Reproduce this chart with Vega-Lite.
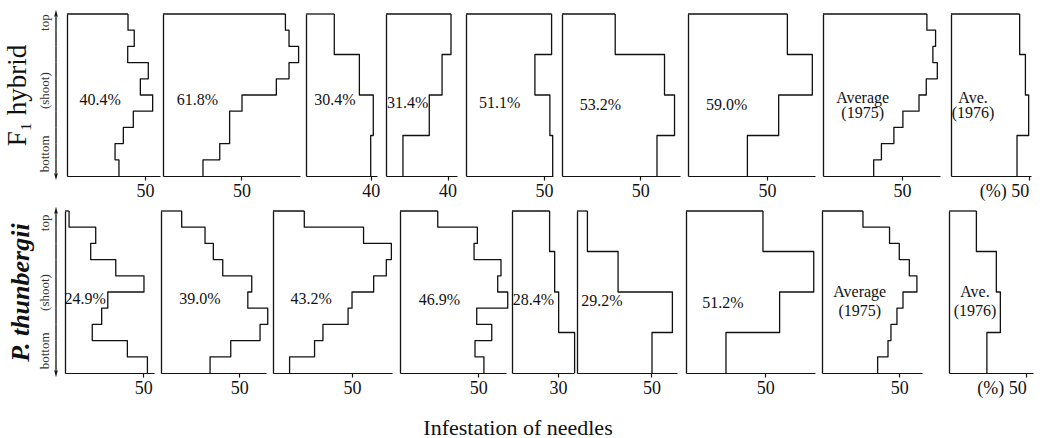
{
"$schema":"https://vega.github.io/schema/vega-lite/v6.json",
"padding":{"left":3,"top":9,"right":5,"bottom":2},
"datasets":{"prof":[
{"sp":"F1","p":1,"top":1,"bot":0.9,"v":39.1},{"sp":"F1","p":1,"top":0.9,"bot":0.8,"v":43.1},{"sp":"F1","p":1,"top":0.8,"bot":0.7,"v":38.9},{"sp":"F1","p":1,"top":0.7,"bot":0.6,"v":52.1},{"sp":"F1","p":1,"top":0.6,"bot":0.5,"v":47.0},{"sp":"F1","p":1,"top":0.5,"bot":0.4,"v":54.9},{"sp":"F1","p":1,"top":0.4,"bot":0.3,"v":42.5},{"sp":"F1","p":1,"top":0.3,"bot":0.2,"v":36.1},{"sp":"F1","p":1,"top":0.2,"bot":0.1,"v":30.8},{"sp":"F1","p":1,"top":0.1,"bot":0,"v":33.3},
{"sp":"F1","p":2,"top":1,"bot":0.9,"v":78.1},{"sp":"F1","p":2,"top":0.9,"bot":0.8,"v":80.4},{"sp":"F1","p":2,"top":0.8,"bot":0.7,"v":86.5},{"sp":"F1","p":2,"top":0.7,"bot":0.6,"v":80.4},{"sp":"F1","p":2,"top":0.6,"bot":0.5,"v":72.3},{"sp":"F1","p":2,"top":0.5,"bot":0.4,"v":50.4},{"sp":"F1","p":2,"top":0.4,"bot":0.3,"v":42.5},{"sp":"F1","p":2,"top":0.3,"bot":0.2,"v":42.5},{"sp":"F1","p":2,"top":0.2,"bot":0.1,"v":36.2},{"sp":"F1","p":2,"top":0.1,"bot":0,"v":25.5},
{"sp":"F1","p":3,"top":1,"bot":0.75,"v":17.5},{"sp":"F1","p":3,"top":0.75,"bot":0.5,"v":33.0},{"sp":"F1","p":3,"top":0.5,"bot":0.25,"v":41.6},{"sp":"F1","p":3,"top":0.25,"bot":0,"v":40.0},
{"sp":"F1","p":4,"top":1,"bot":0.75,"v":42.2},{"sp":"F1","p":4,"top":0.75,"bot":0.5,"v":36.4},{"sp":"F1","p":4,"top":0.5,"bot":0.25,"v":28.1},{"sp":"F1","p":4,"top":0.25,"bot":0,"v":11.0},
{"sp":"F1","p":5,"top":1,"bot":0.75,"v":54.9},{"sp":"F1","p":5,"top":0.75,"bot":0.5,"v":44.2},{"sp":"F1","p":5,"top":0.5,"bot":0.25,"v":53.8},{"sp":"F1","p":5,"top":0.25,"bot":0,"v":55.6},
{"sp":"F1","p":6,"top":1,"bot":0.75,"v":34.0},{"sp":"F1","p":6,"top":0.75,"bot":0.5,"v":65.5},{"sp":"F1","p":6,"top":0.5,"bot":0.25,"v":71.9},{"sp":"F1","p":6,"top":0.25,"bot":0,"v":60.7},
{"sp":"F1","p":7,"top":1,"bot":0.75,"v":62.9},{"sp":"F1","p":7,"top":0.75,"bot":0.5,"v":78.7},{"sp":"F1","p":7,"top":0.5,"bot":0.25,"v":57.4},{"sp":"F1","p":7,"top":0.25,"bot":0,"v":37.6},
{"sp":"F1","p":8,"top":1,"bot":0.9,"v":65.8},{"sp":"F1","p":8,"top":0.9,"bot":0.8,"v":71.3},{"sp":"F1","p":8,"top":0.8,"bot":0.7,"v":69.6},{"sp":"F1","p":8,"top":0.7,"bot":0.6,"v":72.4},{"sp":"F1","p":8,"top":0.6,"bot":0.5,"v":65.4},{"sp":"F1","p":8,"top":0.5,"bot":0.4,"v":60.8},{"sp":"F1","p":8,"top":0.4,"bot":0.3,"v":50.6},{"sp":"F1","p":8,"top":0.3,"bot":0.2,"v":44.9},{"sp":"F1","p":8,"top":0.2,"bot":0.1,"v":37.0},{"sp":"F1","p":8,"top":0.1,"bot":0,"v":32.1},
{"sp":"F1","p":9,"top":1,"bot":0.75,"v":44.2},{"sp":"F1","p":9,"top":0.75,"bot":0.5,"v":47.9},{"sp":"F1","p":9,"top":0.5,"bot":0.25,"v":50.0},{"sp":"F1","p":9,"top":0.25,"bot":0,"v":42.5},
{"sp":"Pt","p":1,"top":1,"bot":0.9,"v":2.6},{"sp":"Pt","p":1,"top":0.9,"bot":0.8,"v":19.6},{"sp":"Pt","p":1,"top":0.8,"bot":0.7,"v":16.4},{"sp":"Pt","p":1,"top":0.7,"bot":0.6,"v":32.4},{"sp":"Pt","p":1,"top":0.6,"bot":0.5,"v":50.4},{"sp":"Pt","p":1,"top":0.5,"bot":0.4,"v":27.3},{"sp":"Pt","p":1,"top":0.4,"bot":0.3,"v":23.4},{"sp":"Pt","p":1,"top":0.3,"bot":0.2,"v":17.4},{"sp":"Pt","p":1,"top":0.2,"bot":0.1,"v":39.8},{"sp":"Pt","p":1,"top":0.1,"bot":0,"v":52.6},
{"sp":"Pt","p":2,"top":1,"bot":0.9,"v":13.2},{"sp":"Pt","p":2,"top":0.9,"bot":0.8,"v":28.1},{"sp":"Pt","p":2,"top":0.8,"bot":0.7,"v":33.4},{"sp":"Pt","p":2,"top":0.7,"bot":0.6,"v":39.4},{"sp":"Pt","p":2,"top":0.6,"bot":0.5,"v":57.9},{"sp":"Pt","p":2,"top":0.5,"bot":0.4,"v":55.4},{"sp":"Pt","p":2,"top":0.4,"bot":0.3,"v":68.1},{"sp":"Pt","p":2,"top":0.3,"bot":0.2,"v":63.2},{"sp":"Pt","p":2,"top":0.2,"bot":0.1,"v":44.5},{"sp":"Pt","p":2,"top":0.1,"bot":0,"v":31.3},
{"sp":"Pt","p":3,"top":1,"bot":0.9,"v":19.8},{"sp":"Pt","p":3,"top":0.9,"bot":0.8,"v":57.3},{"sp":"Pt","p":3,"top":0.8,"bot":0.7,"v":74.9},{"sp":"Pt","p":3,"top":0.7,"bot":0.6,"v":71.7},{"sp":"Pt","p":3,"top":0.6,"bot":0.5,"v":63.7},{"sp":"Pt","p":3,"top":0.5,"bot":0.4,"v":50.0},{"sp":"Pt","p":3,"top":0.4,"bot":0.3,"v":47.5},{"sp":"Pt","p":3,"top":0.3,"bot":0.2,"v":31.6},{"sp":"Pt","p":3,"top":0.2,"bot":0.1,"v":26.3},{"sp":"Pt","p":3,"top":0.1,"bot":0,"v":10.5},
{"sp":"Pt","p":4,"top":1,"bot":0.9,"v":24.1},{"sp":"Pt","p":4,"top":0.9,"bot":0.8,"v":49.4},{"sp":"Pt","p":4,"top":0.8,"bot":0.7,"v":47.3},{"sp":"Pt","p":4,"top":0.7,"bot":0.6,"v":64.5},{"sp":"Pt","p":4,"top":0.6,"bot":0.5,"v":62.4},{"sp":"Pt","p":4,"top":0.5,"bot":0.4,"v":68.8},{"sp":"Pt","p":4,"top":0.4,"bot":0.3,"v":49.0},{"sp":"Pt","p":4,"top":0.3,"bot":0.2,"v":58.6},{"sp":"Pt","p":4,"top":0.2,"bot":0.1,"v":47.9},{"sp":"Pt","p":4,"top":0.1,"bot":0,"v":53.6},
{"sp":"Pt","p":5,"top":1,"bot":0.75,"v":24.5},{"sp":"Pt","p":5,"top":0.75,"bot":0.5,"v":27.8},{"sp":"Pt","p":5,"top":0.5,"bot":0.25,"v":30.4},{"sp":"Pt","p":5,"top":0.25,"bot":0,"v":40.8},
{"sp":"Pt","p":6,"top":1,"bot":0.75,"v":7.0},{"sp":"Pt","p":6,"top":0.75,"bot":0.5,"v":27.6},{"sp":"Pt","p":6,"top":0.5,"bot":0.25,"v":64.1},{"sp":"Pt","p":6,"top":0.25,"bot":0,"v":50.4},
{"sp":"Pt","p":7,"top":1,"bot":0.75,"v":48.5},{"sp":"Pt","p":7,"top":0.75,"bot":0.5,"v":80.5},{"sp":"Pt","p":7,"top":0.5,"bot":0.25,"v":59.0},{"sp":"Pt","p":7,"top":0.25,"bot":0,"v":25.2},
{"sp":"Pt","p":8,"top":1,"bot":0.9,"v":26.5},{"sp":"Pt","p":8,"top":0.9,"bot":0.8,"v":43.7},{"sp":"Pt","p":8,"top":0.8,"bot":0.7,"v":50.0},{"sp":"Pt","p":8,"top":0.7,"bot":0.6,"v":56.5},{"sp":"Pt","p":8,"top":0.6,"bot":0.5,"v":61.4},{"sp":"Pt","p":8,"top":0.5,"bot":0.4,"v":52.4},{"sp":"Pt","p":8,"top":0.4,"bot":0.3,"v":48.5},{"sp":"Pt","p":8,"top":0.3,"bot":0.2,"v":44.6},{"sp":"Pt","p":8,"top":0.2,"bot":0.1,"v":42.7},{"sp":"Pt","p":8,"top":0.1,"bot":0,"v":36.0},
{"sp":"Pt","p":9,"top":1,"bot":0.75,"v":17.7},{"sp":"Pt","p":9,"top":0.75,"bot":0.5,"v":30.6},{"sp":"Pt","p":9,"top":0.5,"bot":0.25,"v":33.2},{"sp":"Pt","p":9,"top":0.25,"bot":0,"v":24.5}
]},
"data":{"name":"prof"},
"config":{
 "view":{"stroke":null},
 "font":"Liberation Serif",
 "axisX":{"domainColor":"#111","domainWidth":1.2,"tickColor":"#111","tickSize":4,"tickWidth":1.2,"labelFont":"Liberation Serif","labelFontSize":18,"labelColor":"#111","labelPadding":2,"labelFlush":false,"grid":false},
 "axisY":{"domainColor":"#111","domainWidth":1.3,"ticks":false,"labels":false,"grid":false},
 "line":{"color":"#111","strokeWidth":1.3,"strokeJoin":"round"},
 "rule":{"color":"#111","strokeWidth":1.3},
 "text":{"font":"Liberation Serif","fontSize":16,"color":"#111","baseline":"middle"}
},
"title":{"text":"Infestation of needles","orient":"bottom","anchor":"middle","font":"Liberation Serif","fontSize":22,"fontWeight":"normal","color":"#111","offset":21},
"spacing":6,
"vconcat":[
{"spacing":0,"hconcat":[
 {"width":10,"height":162,"transform":[{"filter":"datum.sp=='F1' && datum.p==1"}],"layer":[
  {"mark":{"type":"rule"},"encoding":{"x":{"datum":0,"type":"quantitative","scale":{"domain":[0,1]},"axis":null},"y":{"field":"top","type":"quantitative","scale":{"domain":[0,1],"nice":false},"axis":{"domain":false,"ticks":false,"labels":true,"values":[0.14,0.53,0.95],"labelExpr":"datum.value>0.8?'top':datum.value>0.3?'(shoot)':'bottom'","labelAngle":270,"labelAlign":"center","labelBaseline":"bottom","labelFont":"Liberation Serif","labelFontSize":13,"labelColor":"#333","labelPadding":5,"title":"F₁ hybrid","titleFont":"Liberation Serif","titleFontSize":27,"titleFontWeight":"normal","titleColor":"#111","titlePadding":7}},"y2":{"field":"bot"}}},
  {"transform":[{"filter":"datum.top==1"}],"mark":{"type":"point","filled":true,"opacity":1,"color":"#111","size":70,"shape":"M0,-1L0.45,0.7L0,0.35L-0.45,0.7Z"},"encoding":{"x":{"datum":0,"type":"quantitative","axis":null},"y":{"field":"top","type":"quantitative"}}},
  {"transform":[{"filter":"datum.bot==0"}],"mark":{"type":"point","filled":true,"opacity":1,"color":"#111","size":70,"shape":"M0,1L0.45,-0.7L0,-0.35L-0.45,-0.7Z"},"encoding":{"x":{"datum":0,"type":"quantitative","axis":null},"y":{"field":"bot","type":"quantitative"}}}
 ]},
 {"width":95,"height":162,"transform":[{"filter":"datum.sp=='F1' && datum.p==1"}],"layer":[
  {"transform":[{"fold":["top","bot"],"as":["end","pos"]}],"mark":{"type":"line"},"encoding":{"x":{"field":"v","type":"quantitative","scale":{"domain":[0,59.6],"range":[0,93],"nice":false},"axis":{"values":[50],"title":null}},"y":{"field":"pos","type":"quantitative","scale":{"domain":[0,1],"nice":false},"axis":{"title":null}},"order":{"value":null}}},
  {"transform":[{"filter":"datum.top==1"}],"mark":{"type":"rule"},"encoding":{"x":{"field":"v","type":"quantitative"},"x2":{"datum":0},"y":{"datum":1,"type":"quantitative"}}},
  {"transform":[{"filter":"datum.top==1"}],"mark":{"type":"text"},"encoding":{"x":{"datum":21.2,"type":"quantitative"},"y":{"datum":0.47,"type":"quantitative"},"text":{"value":"40.4%"}}}
 ]},
 {"width":142,"height":162,"transform":[{"filter":"datum.sp=='F1' && datum.p==2"}],"layer":[
  {"transform":[{"fold":["top","bot"],"as":["end","pos"]}],"mark":{"type":"line"},"encoding":{"x":{"field":"v","type":"quantitative","scale":{"domain":[0,87.4],"range":[0,137],"nice":false},"axis":{"values":[50],"title":null}},"y":{"field":"pos","type":"quantitative","scale":{"domain":[0,1],"nice":false},"axis":{"title":null}},"order":{"value":null}}},
  {"transform":[{"filter":"datum.top==1"}],"mark":{"type":"rule"},"encoding":{"x":{"field":"v","type":"quantitative"},"x2":{"datum":0},"y":{"datum":1,"type":"quantitative"}}},
  {"transform":[{"filter":"datum.top==1"}],"mark":{"type":"text"},"encoding":{"x":{"datum":22.0,"type":"quantitative"},"y":{"datum":0.47,"type":"quantitative"},"text":{"value":"61.8%"}}}
 ]},
 {"width":79,"height":162,"transform":[{"filter":"datum.sp=='F1' && datum.p==3"}],"layer":[
  {"transform":[{"fold":["top","bot"],"as":["end","pos"]}],"mark":{"type":"line"},"encoding":{"x":{"field":"v","type":"quantitative","scale":{"domain":[0,43.9],"range":[0,71],"nice":false},"axis":{"values":[40],"title":null}},"y":{"field":"pos","type":"quantitative","scale":{"domain":[0,1],"nice":false},"axis":{"title":null}},"order":{"value":null}}},
  {"transform":[{"filter":"datum.top==1"}],"mark":{"type":"rule"},"encoding":{"x":{"field":"v","type":"quantitative"},"x2":{"datum":0},"y":{"datum":1,"type":"quantitative"}}},
  {"transform":[{"filter":"datum.top==1"}],"mark":{"type":"text"},"encoding":{"x":{"datum":17.9,"type":"quantitative"},"y":{"datum":0.47,"type":"quantitative"},"text":{"value":"30.4%"}}}
 ]},
 {"width":79,"height":162,"transform":[{"filter":"datum.sp=='F1' && datum.p==4"}],"layer":[
  {"transform":[{"fold":["top","bot"],"as":["end","pos"]}],"mark":{"type":"line"},"encoding":{"x":{"field":"v","type":"quantitative","scale":{"domain":[0,46.1],"range":[0,71],"nice":false},"axis":{"values":[40],"title":null}},"y":{"field":"pos","type":"quantitative","scale":{"domain":[0,1],"nice":false},"axis":{"title":null}},"order":{"value":null}}},
  {"transform":[{"filter":"datum.top==1"}],"mark":{"type":"rule"},"encoding":{"x":{"field":"v","type":"quantitative"},"x2":{"datum":0},"y":{"datum":1,"type":"quantitative"}}},
  {"transform":[{"filter":"datum.top==1"}],"mark":{"type":"text"},"encoding":{"x":{"datum":14.0,"type":"quantitative"},"y":{"datum":0.45,"type":"quantitative"},"text":{"value":"31.4%"}}}
 ]},
 {"width":95,"height":162,"transform":[{"filter":"datum.sp=='F1' && datum.p==5"}],"layer":[
  {"transform":[{"fold":["top","bot"],"as":["end","pos"]}],"mark":{"type":"line"},"encoding":{"x":{"field":"v","type":"quantitative","scale":{"domain":[0,55.8],"range":[0,87],"nice":false},"axis":{"values":[50],"title":null}},"y":{"field":"pos","type":"quantitative","scale":{"domain":[0,1],"nice":false},"axis":{"title":null}},"order":{"value":null}}},
  {"transform":[{"filter":"datum.top==1"}],"mark":{"type":"rule"},"encoding":{"x":{"field":"v","type":"quantitative"},"x2":{"datum":0},"y":{"datum":1,"type":"quantitative"}}},
  {"transform":[{"filter":"datum.top==1"}],"mark":{"type":"text"},"encoding":{"x":{"datum":21.6,"type":"quantitative"},"y":{"datum":0.45,"type":"quantitative"},"text":{"value":"51.1%"}}}
 ]},
 {"width":125,"height":162,"transform":[{"filter":"datum.sp=='F1' && datum.p==6"}],"layer":[
  {"transform":[{"fold":["top","bot"],"as":["end","pos"]}],"mark":{"type":"line"},"encoding":{"x":{"field":"v","type":"quantitative","scale":{"domain":[0,75.4],"range":[0,118],"nice":false},"axis":{"values":[50],"title":null}},"y":{"field":"pos","type":"quantitative","scale":{"domain":[0,1],"nice":false},"axis":{"title":null}},"order":{"value":null}}},
  {"transform":[{"filter":"datum.top==1"}],"mark":{"type":"rule"},"encoding":{"x":{"field":"v","type":"quantitative"},"x2":{"datum":0},"y":{"datum":1,"type":"quantitative"}}},
  {"transform":[{"filter":"datum.top==1"}],"mark":{"type":"text"},"encoding":{"x":{"datum":24.6,"type":"quantitative"},"y":{"datum":0.44,"type":"quantitative"},"text":{"value":"53.2%"}}}
 ]},
 {"width":134,"height":162,"transform":[{"filter":"datum.sp=='F1' && datum.p==7"}],"layer":[
  {"transform":[{"fold":["top","bot"],"as":["end","pos"]}],"mark":{"type":"line"},"encoding":{"x":{"field":"v","type":"quantitative","scale":{"domain":[0,80.4],"range":[0,127],"nice":false},"axis":{"values":[50],"title":null}},"y":{"field":"pos","type":"quantitative","scale":{"domain":[0,1],"nice":false},"axis":{"title":null}},"order":{"value":null}}},
  {"transform":[{"filter":"datum.top==1"}],"mark":{"type":"rule"},"encoding":{"x":{"field":"v","type":"quantitative"},"x2":{"datum":0},"y":{"datum":1,"type":"quantitative"}}},
  {"transform":[{"filter":"datum.top==1"}],"mark":{"type":"text"},"encoding":{"x":{"datum":24.4,"type":"quantitative"},"y":{"datum":0.44,"type":"quantitative"},"text":{"value":"59.0%"}}}
 ]},
 {"width":127,"height":162,"transform":[{"filter":"datum.sp=='F1' && datum.p==8"}],"layer":[
  {"transform":[{"fold":["top","bot"],"as":["end","pos"]}],"mark":{"type":"line"},"encoding":{"x":{"field":"v","type":"quantitative","scale":{"domain":[0,74.1],"range":[0,117],"nice":false},"axis":{"values":[50],"title":null}},"y":{"field":"pos","type":"quantitative","scale":{"domain":[0,1],"nice":false},"axis":{"title":null}},"order":{"value":null}}},
  {"transform":[{"filter":"datum.top==1"}],"mark":{"type":"rule"},"encoding":{"x":{"field":"v","type":"quantitative"},"x2":{"datum":0},"y":{"datum":1,"type":"quantitative"}}},
  {"transform":[{"filter":"datum.top==1"}],"mark":{"type":"text","lineHeight":15},"encoding":{"x":{"datum":25.1,"type":"quantitative"},"y":{"datum":0.483,"type":"quantitative"},"text":{"value":["Average","(1975)"]}}}
 ]},
 {"width":80,"height":162,"transform":[{"filter":"datum.sp=='F1' && datum.p==9"}],"layer":[
  {"transform":[{"fold":["top","bot"],"as":["end","pos"]}],"mark":{"type":"line"},"encoding":{"x":{"field":"v","type":"quantitative","scale":{"domain":[0,51.5],"range":[0,80],"nice":false},"axis":{"values":[50],"title":null,"labelExpr":"'(%) 50'","labelAlign":"right","labelDx":9}},"y":{"field":"pos","type":"quantitative","scale":{"domain":[0,1],"nice":false},"axis":{"title":null}},"order":{"value":null}}},
  {"transform":[{"filter":"datum.top==1"}],"mark":{"type":"rule"},"encoding":{"x":{"field":"v","type":"quantitative"},"x2":{"datum":0},"y":{"datum":1,"type":"quantitative"}}},
  {"transform":[{"filter":"datum.top==1"}],"mark":{"type":"text","lineHeight":15},"encoding":{"x":{"datum":14.2,"type":"quantitative"},"y":{"datum":0.483,"type":"quantitative"},"text":{"value":["Ave.","(1976)"]}}}
 ]}
]},
{"spacing":0,"hconcat":[
 {"width":8,"height":162,"transform":[{"filter":"datum.sp=='Pt' && datum.p==1"}],"layer":[
  {"mark":{"type":"rule"},"encoding":{"x":{"datum":0,"type":"quantitative","scale":{"domain":[0,1]},"axis":null},"y":{"field":"top","type":"quantitative","scale":{"domain":[0,1],"nice":false},"axis":{"domain":false,"ticks":false,"labels":true,"values":[0.14,0.5,0.93],"labelExpr":"datum.value>0.8?'top':datum.value>0.3?'(shoot)':'bottom'","labelAngle":270,"labelAlign":"center","labelBaseline":"bottom","labelFont":"Liberation Serif","labelFontSize":13,"labelColor":"#333","labelPadding":5,"title":"P. thunbergii","titleFont":"Liberation Serif","titleFontSize":26,"titleFontWeight":"bold","titleFontStyle":"italic","titleColor":"#111","titlePadding":5}},"y2":{"field":"bot"}}},
  {"transform":[{"filter":"datum.top==1"}],"mark":{"type":"point","filled":true,"opacity":1,"color":"#111","size":70,"shape":"M0,-1L0.45,0.7L0,0.35L-0.45,0.7Z"},"encoding":{"x":{"datum":0,"type":"quantitative","axis":null},"y":{"field":"top","type":"quantitative"}}},
  {"transform":[{"filter":"datum.bot==0"}],"mark":{"type":"point","filled":true,"opacity":1,"color":"#111","size":70,"shape":"M0,1L0.45,-0.7L0,-0.35L-0.45,-0.7Z"},"encoding":{"x":{"datum":0,"type":"quantitative","axis":null},"y":{"field":"bot","type":"quantitative"}}}
 ]},
 {"width":95,"height":162,"transform":[{"filter":"datum.sp=='Pt' && datum.p==1"}],"layer":[
  {"transform":[{"fold":["top","bot"],"as":["end","pos"]}],"mark":{"type":"line"},"encoding":{"x":{"field":"v","type":"quantitative","scale":{"domain":[0,56.8],"range":[0,89],"nice":false},"axis":{"values":[50],"title":null}},"y":{"field":"pos","type":"quantitative","scale":{"domain":[0,1],"nice":false},"axis":{"title":null}},"order":{"value":null}}},
  {"transform":[{"filter":"datum.top==1"}],"mark":{"type":"rule"},"encoding":{"x":{"field":"v","type":"quantitative"},"x2":{"datum":0},"y":{"datum":1,"type":"quantitative"}}},
  {"transform":[{"filter":"datum.top==1"}],"mark":{"type":"text"},"encoding":{"x":{"datum":12.8,"type":"quantitative"},"y":{"datum":0.457,"type":"quantitative"},"text":{"value":"24.9%"}}}
 ]},
 {"width":111,"height":162,"transform":[{"filter":"datum.sp=='Pt' && datum.p==2"}],"layer":[
  {"transform":[{"fold":["top","bot"],"as":["end","pos"]}],"mark":{"type":"line"},"encoding":{"x":{"field":"v","type":"quantitative","scale":{"domain":[0,67.0],"range":[0,105],"nice":false},"axis":{"values":[50],"title":null}},"y":{"field":"pos","type":"quantitative","scale":{"domain":[0,1],"nice":false},"axis":{"title":null}},"order":{"value":null}}},
  {"transform":[{"filter":"datum.top==1"}],"mark":{"type":"rule"},"encoding":{"x":{"field":"v","type":"quantitative"},"x2":{"datum":0},"y":{"datum":1,"type":"quantitative"}}},
  {"transform":[{"filter":"datum.top==1"}],"mark":{"type":"text"},"encoding":{"x":{"datum":24.9,"type":"quantitative"},"y":{"datum":0.457,"type":"quantitative"},"text":{"value":"39.0%"}}}
 ]},
 {"width":126,"height":162,"transform":[{"filter":"datum.sp=='Pt' && datum.p==3"}],"layer":[
  {"transform":[{"fold":["top","bot"],"as":["end","pos"]}],"mark":{"type":"line"},"encoding":{"x":{"field":"v","type":"quantitative","scale":{"domain":[0,75.3],"range":[0,119],"nice":false},"axis":{"values":[50],"title":null}},"y":{"field":"pos","type":"quantitative","scale":{"domain":[0,1],"nice":false},"axis":{"title":null}},"order":{"value":null}}},
  {"transform":[{"filter":"datum.top==1"}],"mark":{"type":"rule"},"encoding":{"x":{"field":"v","type":"quantitative"},"x2":{"datum":0},"y":{"datum":1,"type":"quantitative"}}},
  {"transform":[{"filter":"datum.top==1"}],"mark":{"type":"text"},"encoding":{"x":{"datum":24.1,"type":"quantitative"},"y":{"datum":0.457,"type":"quantitative"},"text":{"value":"43.2%"}}}
 ]},
 {"width":111,"height":162,"transform":[{"filter":"datum.sp=='Pt' && datum.p==4"}],"layer":[
  {"transform":[{"fold":["top","bot"],"as":["end","pos"]}],"mark":{"type":"line"},"encoding":{"x":{"field":"v","type":"quantitative","scale":{"domain":[0,67.7],"range":[0,106],"nice":false},"axis":{"values":[50],"title":null}},"y":{"field":"pos","type":"quantitative","scale":{"domain":[0,1],"nice":false},"axis":{"title":null}},"order":{"value":null}}},
  {"transform":[{"filter":"datum.top==1"}],"mark":{"type":"rule"},"encoding":{"x":{"field":"v","type":"quantitative"},"x2":{"datum":0},"y":{"datum":1,"type":"quantitative"}}},
  {"transform":[{"filter":"datum.top==1"}],"mark":{"type":"text"},"encoding":{"x":{"datum":25.1,"type":"quantitative"},"y":{"datum":0.449,"type":"quantitative"},"text":{"value":"46.9%"}}}
 ]},
 {"width":64,"height":162,"transform":[{"filter":"datum.sp=='Pt' && datum.p==5"}],"layer":[
  {"transform":[{"fold":["top","bot"],"as":["end","pos"]}],"mark":{"type":"line"},"encoding":{"x":{"field":"v","type":"quantitative","scale":{"domain":[0,40.4],"range":[0,62],"nice":false},"axis":{"values":[30],"title":null}},"y":{"field":"pos","type":"quantitative","scale":{"domain":[0,1],"nice":false},"axis":{"title":null}},"order":{"value":null}}},
  {"transform":[{"filter":"datum.top==1"}],"mark":{"type":"rule"},"encoding":{"x":{"field":"v","type":"quantitative"},"x2":{"datum":0},"y":{"datum":1,"type":"quantitative"}}},
  {"transform":[{"filter":"datum.top==1"}],"mark":{"type":"text"},"encoding":{"x":{"datum":13.9,"type":"quantitative"},"y":{"datum":0.45,"type":"quantitative"},"text":{"value":"28.4%"}}}
 ]},
 {"width":108,"height":162,"transform":[{"filter":"datum.sp=='Pt' && datum.p==6"}],"layer":[
  {"transform":[{"fold":["top","bot"],"as":["end","pos"]}],"mark":{"type":"line"},"encoding":{"x":{"field":"v","type":"quantitative","scale":{"domain":[0,67.2],"range":[0,100],"nice":false},"axis":{"values":[50],"title":null}},"y":{"field":"pos","type":"quantitative","scale":{"domain":[0,1],"nice":false},"axis":{"title":null}},"order":{"value":null}}},
  {"transform":[{"filter":"datum.top==1"}],"mark":{"type":"rule"},"encoding":{"x":{"field":"v","type":"quantitative"},"x2":{"datum":0},"y":{"datum":1,"type":"quantitative"}}},
  {"transform":[{"filter":"datum.top==1"}],"mark":{"type":"text"},"encoding":{"x":{"datum":16.8,"type":"quantitative"},"y":{"datum":0.444,"type":"quantitative"},"text":{"value":"29.2%"}}}
 ]},
 {"width":135,"height":162,"transform":[{"filter":"datum.sp=='Pt' && datum.p==7"}],"layer":[
  {"transform":[{"fold":["top","bot"],"as":["end","pos"]}],"mark":{"type":"line"},"encoding":{"x":{"field":"v","type":"quantitative","scale":{"domain":[0,81.3],"range":[0,129],"nice":false},"axis":{"values":[50],"title":null}},"y":{"field":"pos","type":"quantitative","scale":{"domain":[0,1],"nice":false},"axis":{"title":null}},"order":{"value":null}}},
  {"transform":[{"filter":"datum.top==1"}],"mark":{"type":"rule"},"encoding":{"x":{"field":"v","type":"quantitative"},"x2":{"datum":0},"y":{"datum":1,"type":"quantitative"}}},
  {"transform":[{"filter":"datum.top==1"}],"mark":{"type":"text"},"encoding":{"x":{"datum":23.3,"type":"quantitative"},"y":{"datum":0.432,"type":"quantitative"},"text":{"value":"51.2%"}}}
 ]},
 {"width":126,"height":162,"transform":[{"filter":"datum.sp=='Pt' && datum.p==8"}],"layer":[
  {"transform":[{"fold":["top","bot"],"as":["end","pos"]}],"mark":{"type":"line"},"encoding":{"x":{"field":"v","type":"quantitative","scale":{"domain":[0,64.7],"range":[0,100],"nice":false},"axis":{"values":[50],"title":null}},"y":{"field":"pos","type":"quantitative","scale":{"domain":[0,1],"nice":false},"axis":{"title":null}},"order":{"value":null}}},
  {"transform":[{"filter":"datum.top==1"}],"mark":{"type":"rule"},"encoding":{"x":{"field":"v","type":"quantitative"},"x2":{"datum":0},"y":{"datum":1,"type":"quantitative"}}},
  {"transform":[{"filter":"datum.top==1"}],"mark":{"type":"text","lineHeight":19},"encoding":{"x":{"datum":24.4,"type":"quantitative"},"y":{"datum":0.5,"type":"quantitative"},"text":{"value":["Average","(1975)"]}}}
 ]},
 {"width":84,"height":162,"transform":[{"filter":"datum.sp=='Pt' && datum.p==9"}],"layer":[
  {"transform":[{"fold":["top","bot"],"as":["end","pos"]}],"mark":{"type":"line"},"encoding":{"x":{"field":"v","type":"quantitative","scale":{"domain":[0,54.3],"range":[0,84],"nice":false},"axis":{"values":[50],"title":null,"labelExpr":"'(%) 50'","labelAlign":"right","labelDx":9}},"y":{"field":"pos","type":"quantitative","scale":{"domain":[0,1],"nice":false},"axis":{"title":null}},"order":{"value":null}}},
  {"transform":[{"filter":"datum.top==1"}],"mark":{"type":"rule"},"encoding":{"x":{"field":"v","type":"quantitative"},"x2":{"datum":0},"y":{"datum":1,"type":"quantitative"}}},
  {"transform":[{"filter":"datum.top==1"}],"mark":{"type":"text","lineHeight":19},"encoding":{"x":{"datum":16.8,"type":"quantitative"},"y":{"datum":0.5,"type":"quantitative"},"text":{"value":["Ave.","(1976)"]}}}
 ]}
]}
]
}
